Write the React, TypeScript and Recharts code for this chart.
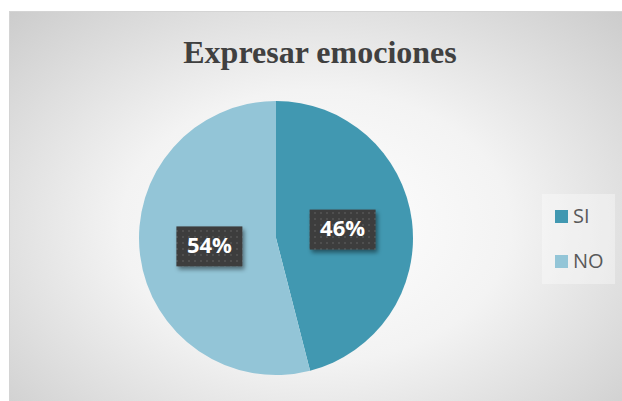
import { PieChart, Pie, Cell } from 'recharts';

const categories = ['SI', 'NO'];
const values = [46, 54];
const colors = ['#4198B1', '#93C5D7'];

const chartData = categories.map((name, i) => ({ name, value: values[i] }));

const RAD = Math.PI / 180;

function renderLabel(props: any) {
  const { cx, cy, midAngle, outerRadius, percent } = props;
  const r = outerRadius * 0.49;
  const x = cx + r * Math.cos(-midAngle * RAD);
  const y = cy + r * Math.sin(-midAngle * RAD);
  const w = 66;
  const h = 40;
  return (
    <g>
      <rect
        x={x - w / 2}
        y={y - h / 2}
        width={w}
        height={h}
        fill='url(#dots)'
        filter='url(#shadow)'
      />
      <text
        x={x}
        y={y + 1}
        fill='#ffffff'
        textAnchor='middle'
        dominantBaseline='middle'
        style={{ fontFamily: '"Open Sans", sans-serif', fontWeight: 700, fontSize: 22 }}
      >
        {`${Math.round(percent * 100)}%`}
      </text>
    </g>
  );
}

export default function App() {
  return (
    <div style={{ position: 'fixed', left: 0, top: 0, width: 622, height: 401, background: '#ffffff' }}>
      <div
        style={{
          position: 'absolute',
          left: 9,
          top: 11,
          width: 613,
          height: 390,
          boxSizing: 'border-box',
          borderLeft: '1px solid #d4d4d4',
          borderTop: '1px solid #d4d4d4',
          background:
            'radial-gradient(ellipse farthest-corner at 50% 55%, #ffffff 0%, #f3f3f3 45%, #cccccc 100%)',
        }}
      />
      <div
        style={{
          position: 'absolute',
          left: 0,
          top: 32,
          width: 640,
          textAlign: 'center',
          fontFamily: '"Liberation Serif", "Times New Roman", serif',
          fontWeight: 700,
          fontSize: 32,
          lineHeight: '40px',
          color: '#404040',
        }}
      >
        Expresar emociones
      </div>
      <div style={{ position: 'absolute', left: 0, top: 0 }}>
        <PieChart width={622} height={401} margin={{ top: 0, right: 0, bottom: 0, left: 0 }}>
          <defs>
            <pattern id='dots' width='6' height='6' patternUnits='userSpaceOnUse'>
              <rect width='6' height='6' fill='#3d3d3d' />
              <rect x='2' y='2' width='2' height='2' fill='#505050' />
            </pattern>
            <filter id='shadow' x='-20%' y='-20%' width='150%' height='160%'>
              <feDropShadow dx='2' dy='3' stdDeviation='2' floodColor='#000' floodOpacity='0.45' />
            </filter>
          </defs>
          <Pie
            data={chartData}
            dataKey='value'
            nameKey='name'
            cx={276}
            cy={238}
            outerRadius={137}
            startAngle={90}
            endAngle={-270}
            stroke='none'
            label={renderLabel}
            labelLine={false}
            isAnimationActive={false}
          >
            {chartData.map((d, i) => (
              <Cell key={d.name} fill={colors[i]} />
            ))}
          </Pie>
        </PieChart>
      </div>
      <div
        style={{
          position: 'absolute',
          left: 542,
          top: 194,
          width: 73,
          height: 90,
          background: 'rgba(255,255,255,0.35)',
          fontFamily: '"Open Sans", sans-serif',
          fontSize: 20,
          color: '#595959',
        }}
      >
        {categories.map((name, i) => (
          <div
            key={name}
            style={{ position: 'absolute', left: 13, top: 14 + i * 45, height: 16, display: 'flex', alignItems: 'center' }}
          >
            <div style={{ width: 13, height: 13, background: colors[i], marginRight: 5 }} />
            <span style={{ lineHeight: '16px' }}>{name}</span>
          </div>
        ))}
      </div>
    </div>
  );
}
